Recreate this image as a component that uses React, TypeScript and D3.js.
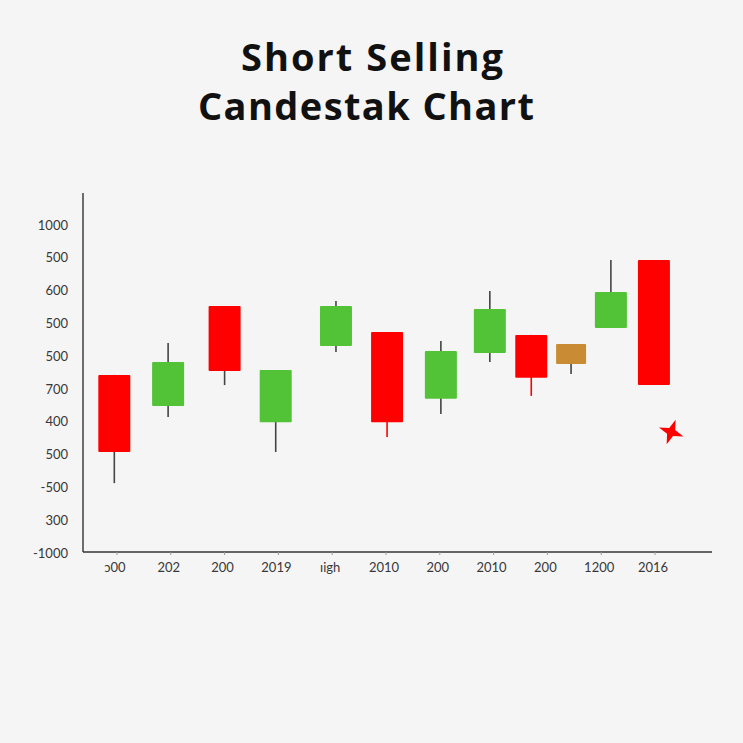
import * as d3 from 'd3';
import React, { useEffect, useRef } from 'react';

// candle positions on the x axis, in label units
const periods = [-0.05, 0.95, 2.0, 2.95, 4.07, 5.02, 6.02, 6.93, 7.7, 8.44, 9.18, 9.98];
const opens = [543, 448, 753, 399, 631, 674, 470, 610, 665, 637, 686, 893];
const closes = [308, 582, 555, 558, 753, 399, 616, 744, 534, 576, 796, 512];
const highs = [543, 640, 753, 558, 768, 674, 646, 799, 665, 637, 893, 893];
const lows = [213, 415, 512, 308, 613, 354, 424, 582, 479, 546, 686, 512];
const signals = ['down', 'up', 'down', 'up', 'up', 'down', 'up', 'up', 'down', 'flat', 'up', 'down'];

const xLabels = ['ɔ00', '202', '200', '2019', 'ıigh', '2010', '200', '2010', '200', '1200', '2016'];
const yLabels = ['-1000', '300', '-500', '500', '400', '700', '500', '500', '600', '500', '1000'];

const titleLines = ['Short Selling', 'Candestak Chart'];

const marker = { period: 10.3, value: 369 };

const W = 743;
const H = 743;
const COLORS: Record<string, string> = { up: '#52c236', down: '#ff0000', flat: '#c98c35' };

const App: React.FC = () => {
  const svgRef = useRef<SVGSVGElement>(null);

  useEffect(() => {
    if (!svgRef.current) { return; }
    const svg = d3.select(svgRef.current);
    svg.selectAll('*').remove();

    svg.append('rect').attr('width', W).attr('height', H).attr('fill', '#f5f5f5');

    // Title
    const titleSpec = [
      { cx: 372, y: 71, w: 262 },
      { cx: 366, y: 120, w: 336 }
    ];
    svg.append('g')
      .selectAll('text')
      .data(titleLines)
      .enter().append('text')
      .attr('x', (_, i) => titleSpec[i].cx - titleSpec[i].w / 2)
      .attr('y', (_, i) => titleSpec[i].y)
      .attr('textLength', (_, i) => titleSpec[i].w)
      .attr('lengthAdjust', 'spacing')
      .attr('font-family', "'Open Sans', sans-serif")
      .attr('font-weight', 700)
      .attr('font-size', 38)
      .attr('fill', '#111')
      .text(d => d);

    const left = 83;
    const right = 712;
    const top = 193;
    const bottom = 552;

    const x = d3.scaleLinear().domain([0, 10]).range([117, 655]);
    const y = d3.scaleLinear().domain([0, 1000]).range([553, 225]);
    const yTick = d3.scalePoint<number>().domain(d3.range(yLabels.length)).range([553, 225]);

    // axes lines
    svg.append('line')
      .attr('x1', left).attr('x2', left).attr('y1', top).attr('y2', bottom)
      .attr('stroke', '#333').attr('stroke-width', 1.4);
    svg.append('line')
      .attr('x1', left).attr('x2', right).attr('y1', bottom).attr('y2', bottom)
      .attr('stroke', '#333').attr('stroke-width', 1.4);

    // y labels
    svg.append('g')
      .selectAll('text')
      .data(yLabels)
      .enter().append('text')
      .attr('x', 68)
      .attr('y', (_, i) => yTick(i)!)
      .attr('dy', '0.35em')
      .attr('text-anchor', 'end')
      .attr('font-family', 'Lato, sans-serif')
      .attr('font-size', 13)
      .attr('fill', '#383838')
      .text(d => d);

    // x ticks and labels
    const xg = svg.append('g');
    xg.selectAll('line')
      .data(xLabels)
      .enter().append('line')
      .attr('x1', (_, i) => x(i)).attr('x2', (_, i) => x(i))
      .attr('y1', bottom).attr('y2', bottom + 3)
      .attr('stroke', '#999');
    xg.selectAll('text')
      .data(xLabels)
      .enter().append('text')
      .attr('x', (_, i) => x(i) - 2)
      .attr('y', 567)
      .attr('dy', '0.35em')
      .attr('text-anchor', 'middle')
      .attr('font-family', 'Lato, sans-serif')
      .attr('font-size', 13)
      .attr('fill', '#383838')
      .text(d => d);

    const candles = periods.map((p, i) => ({
      p, open: opens[i], close: closes[i], high: highs[i], low: lows[i], signal: signals[i]
    }));
    const redWick = new Set([5, 8]);
    const bodyW = 32;

    const cg = svg.append('g');
    cg.selectAll('line.wick')
      .data(candles)
      .enter().append('line')
      .attr('class', 'wick')
      .attr('x1', d => x(d.p)).attr('x2', d => x(d.p))
      .attr('y1', d => y(d.high)).attr('y2', d => y(d.low))
      .attr('stroke', (_, i) => redWick.has(i) ? '#ff0000' : '#444')
      .attr('stroke-width', 1.6);
    cg.selectAll('rect.body')
      .data(candles)
      .enter().append('rect')
      .attr('class', 'body')
      .attr('x', d => x(d.p) - (d.signal === 'flat' ? 15 : bodyW / 2))
      .attr('width', d => d.signal === 'flat' ? 30 : bodyW)
      .attr('y', d => y(Math.max(d.open, d.close)))
      .attr('height', d => Math.abs(y(d.open) - y(d.close)))
      .attr('rx', 1)
      .attr('fill', d => COLORS[d.signal]);

    // red star marker
    const outer = 13;
    const inner = 4.5;
    const pts: [number, number][] = d3.range(8).map(k => {
      const a = (k * Math.PI) / 4 - Math.PI / 2 + 0.35;
      const r = k % 2 === 0 ? outer : inner;
      return [Math.cos(a) * r, Math.sin(a) * r];
    });
    svg.append('path')
      .attr('transform', `translate(${x(marker.period)},${y(marker.value)})`)
      .attr('d', d3.line().curve(d3.curveLinearClosed)(pts)!)
      .attr('fill', '#ff0000');
  }, []);

  return (
    <div style={{ position: 'fixed', left: 0, top: 0, width: W, height: H, background: '#f5f5f5' }}>
      <svg ref={svgRef} width={W} height={H} />
    </div>
  );
};

export default App;
